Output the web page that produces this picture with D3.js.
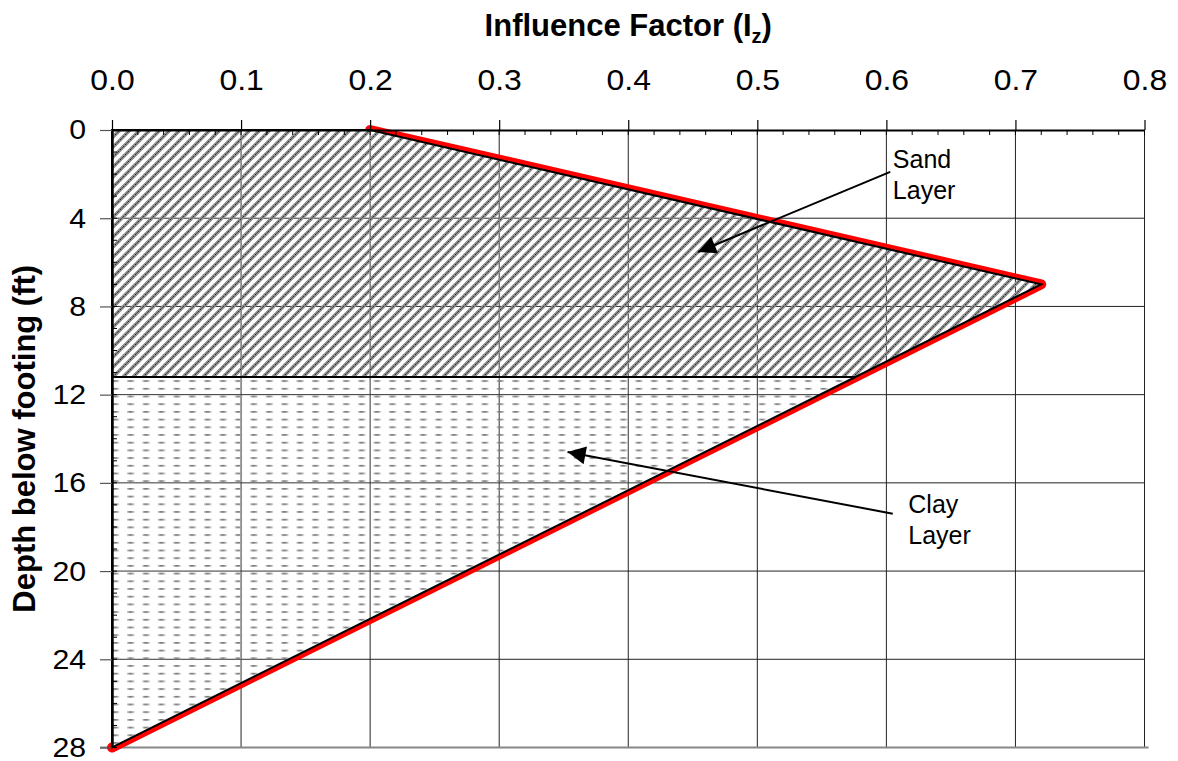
<!DOCTYPE html>
<html><head><meta charset="utf-8">
<script src="https://cdn.jsdelivr.net/npm/d3@7"></script>
<style>body{margin:0;background:#fff}svg{display:block}</style>
</head><body><svg id="c" width="1178" height="761"></svg>
<script>
// ---- data ----
const xTickValues = [0, 0.1, 0.2, 0.3, 0.4, 0.5, 0.6, 0.7, 0.8];
const xTickLabels = ["0.0", "0.1", "0.2", "0.3", "0.4", "0.5", "0.6", "0.7", "0.8"];
const yTickValues = [0, 4, 8, 12, 16, 20, 24, 28];
const izProfileIz = [0.2, 0.72, 0.0];
const izProfileDepth = [0, 7, 28];
const sandIz = [0, 0.2, 0.72, 0.576, 0];
const sandDepth = [0, 0, 7, 11.2, 11.2];
const clayIz = [0, 0.576, 0];
const clayDepth = [11.2, 11.2, 28];
const annotLabels = [["Sand", "Layer"], ["Clay", "Layer"]];
const annotTextIz = [0.605, 0.617];
const annotTextDepth = [1.72, 17.37];
const annotFromIz = [0.603, 0.605];
const annotFromDepth = [1.9, 17.4];
const annotToIz = [0.454, 0.353];
const annotToDepth = [5.53, 14.6];

const svg = d3.select("#c");
const x = d3.scaleLinear().domain([0, 0.8]).range([112, 1144.5]);
const y = d3.scaleLinear().domain([0, 28]).range([130, 747.5]);
const FONT = "'Liberation Sans', Arial, sans-serif";

const defs = svg.append("defs");
const hatch = defs.append("pattern").attr("id", "hatch").attr("patternUnits", "userSpaceOnUse")
  .attr("width", 10).attr("height", 10);
hatch.append("path").attr("d", "M-1,1 l2,-2 M0,10 l10,-10 M9,11 l2,-2")
  .attr("stroke", "#8c8c8c").attr("stroke-width", 3.4);
hatch.append("path").attr("d", "M-1,1 l2,-2 M0,10 l10,-10 M9,11 l2,-2")
  .attr("stroke", "#1a1a1a").attr("stroke-width", 0.9).attr("stroke-dasharray", "2,1.5");

const dash = defs.append("pattern").attr("id", "dash").attr("patternUnits", "userSpaceOnUse")
  .attr("width", 15.4).attr("height", 7.7);
dash.append("rect").attr("x", 4).attr("y", 3).attr("width", 7).attr("height", 1.5).attr("fill", "#a0a0a0");
dash.append("rect").attr("x", 5.5).attr("y", 3.3).attr("width", 3.5).attr("height", 0.9).attr("fill", "#555");

const poly = (ix, dz) => ix.map((v, i) => [x(v), y(dz[i])]);
const lineGen = d3.line();
const sandD = lineGen(poly(sandIz, sandDepth)) + "Z";
const clayD = lineGen(poly(clayIz, clayDepth)) + "Z";

const clip = defs.append("clipPath").attr("id", "layersClip");
clip.append("path").attr("d", sandD);
clip.append("path").attr("d", clayD);

function grid(parent, color) {
  parent.selectAll(".vg").data(xTickValues).join("line").attr("class", "vg")
    .attr("x1", d => x(d)).attr("x2", d => x(d)).attr("y1", y(0)).attr("y2", y(28))
    .attr("stroke", color).attr("stroke-width", 1);
  parent.selectAll(".hg").data(yTickValues.filter(d => d > 0 && d < 28)).join("line").attr("class", "hg")
    .attr("x1", x(0)).attr("x2", x(0.8)).attr("y1", d => y(d)).attr("y2", d => y(d))
    .attr("stroke", color).attr("stroke-width", 1);
}
grid(svg.append("g"), "#222");
svg.append("line").attr("x1", x(0) - 12).attr("x2", x(0.8) + 4).attr("y1", y(28)).attr("y2", y(28))
  .attr("stroke", "#888").attr("stroke-width", 2.2);

// red profile
svg.append("path").attr("d", lineGen(poly(izProfileIz, izProfileDepth)))
  .attr("fill", "none").attr("stroke", "#ff0000").attr("stroke-width", 10)
  .attr("stroke-linejoin", "round").attr("stroke-linecap", "round");

// layer fills: white under, grid inside, then patterns
svg.append("path").attr("d", clayD).attr("fill", "#fff");
svg.append("path").attr("d", sandD).attr("fill", "#fff");
grid(svg.append("g").attr("clip-path", "url(#layersClip)"), "#333");
svg.append("path").attr("d", clayD).attr("fill", "url(#dash)");
svg.append("path").attr("d", sandD).attr("fill", "url(#hatch)");

// outlines
svg.append("path").attr("d", clayD).attr("fill", "none").attr("stroke", "#000").attr("stroke-width", 2);
svg.append("path").attr("d", sandD).attr("fill", "none").attr("stroke", "#000").attr("stroke-width", 2);

// axes
const minorX = d3.range(0, 41).map(i => i * 0.02);
svg.append("g").selectAll("line").data(minorX).join("line")
  .attr("x1", d => x(d)).attr("x2", d => x(d)).attr("y1", y(0)).attr("y2", y(0) + 5)
  .attr("stroke", "#000").attr("stroke-width", 1);
const minorY = d3.range(0, 29);
svg.append("g").selectAll("line").data(minorY).join("line")
  .attr("x1", x(0)).attr("x2", x(0) + 5).attr("y1", d => y(d)).attr("y2", d => y(d))
  .attr("stroke", "#000").attr("stroke-width", 1);

const xAxis = d3.axisTop(x).tickValues(xTickValues).tickFormat((d, i) => xTickLabels[i])
  .tickSize(10).tickSizeOuter(0).tickPadding(30);
const xa = svg.append("g").attr("transform", `translate(0,${y(0)})`).call(xAxis);
xa.select(".domain").attr("stroke", "#000").attr("stroke-width", 2);
xa.selectAll(".tick line").attr("stroke", "#000").attr("stroke-width", 1.2);
xa.selectAll("text").attr("font-family", FONT).attr("font-size", 29).attr("fill", "#000")
  .attr("transform", "scale(1.1,1)");

const yAxis = d3.axisLeft(y).tickValues(yTickValues).tickSize(12).tickSizeOuter(0).tickPadding(13);
const ya = svg.append("g").attr("transform", `translate(${x(0)},0)`).call(yAxis);
ya.select(".domain").attr("stroke", "#000").attr("stroke-width", 2.5);
ya.selectAll(".tick line").attr("stroke", "#555").attr("stroke-width", 1.2);
ya.selectAll("text").attr("font-family", FONT).attr("font-size", 28).attr("fill", "#000")
  .attr("x", -24).attr("transform", "scale(1.08,1)");

// titles
const xt = svg.append("text").attr("x", (x(0) + x(0.8)) / 2).attr("y", 36)
  .attr("text-anchor", "middle").attr("font-family", FONT).attr("font-weight", "bold")
  .attr("font-size", 31).attr("fill", "#000");
xt.append("tspan").text("Influence Factor (I");
xt.append("tspan").text("z").attr("font-size", 20).attr("dy", 7);
xt.append("tspan").text(")").attr("dy", -7);

svg.append("text").attr("transform", `translate(35,${(y(0) + y(28)) / 2}) rotate(-90)`)
  .attr("text-anchor", "middle").attr("font-family", FONT).attr("font-weight", "bold")
  .attr("font-size", 31).attr("fill", "#000").text("Depth below footing (ft)");

// annotations
const marker = defs.append("marker").attr("id", "arrow").attr("viewBox", "0 0 10 10")
  .attr("refX", 10).attr("refY", 5).attr("markerWidth", 22).attr("markerHeight", 18)
  .attr("markerUnits", "userSpaceOnUse").attr("orient", "auto");
marker.append("path").attr("d", "M0,0 L10,5 L0,10 Z").attr("fill", "#000");

annotLabels.forEach((lines, i) => {
  svg.append("line").attr("x1", x(annotFromIz[i])).attr("y1", y(annotFromDepth[i]))
    .attr("x2", x(annotToIz[i])).attr("y2", y(annotToDepth[i]))
    .attr("stroke", "#000").attr("stroke-width", 2).attr("marker-end", "url(#arrow)");
  const t = svg.append("text").attr("font-family", FONT).attr("font-size", 25).attr("fill", "#000");
  lines.forEach((s, j) => {
    t.append("tspan").attr("x", x(annotTextIz[i])).attr("y", y(annotTextDepth[i]) + j * 31).text(s);
  });
});
</script></body></html>
